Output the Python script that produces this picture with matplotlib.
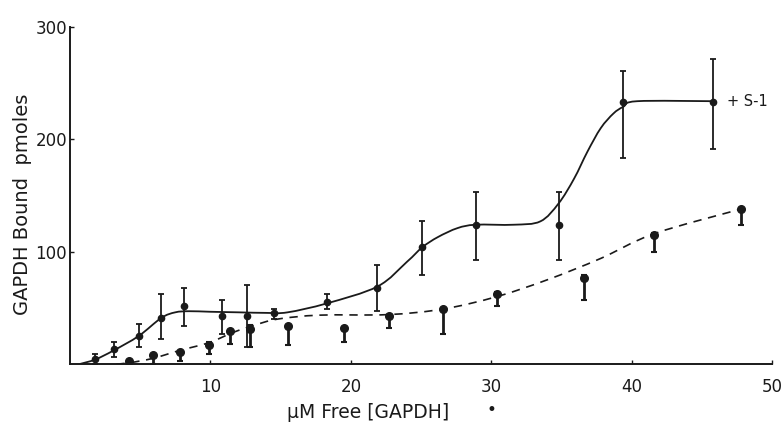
import numpy as np
import matplotlib
matplotlib.use("Agg")
from matplotlib import pyplot as plt
from matplotlib.path import Path
from matplotlib.patches import PathPatch

# +S-1 series (solid line)
s1_x = [1.8, 3.1, 4.9, 6.5, 8.1, 10.8, 12.6, 14.5, 18.3, 21.9, 25.1, 28.9, 34.8, 39.4, 45.8]
s1_y = [4.5, 13, 25, 41, 52, 43, 43, 45, 55, 68, 104, 124, 124, 233, 233]
s1_lo = [0, 6, 15, 22, 34, 27, 15, 40, 49, 47, 79, 93, 93, 183, 191]
s1_hi = [9, 20, 36, 62, 68, 57, 70, 49, 62, 88, 127, 153, 153, 261, 272]

# control series (dashed line)
c_x = [4.2, 5.9, 7.8, 9.9, 11.4, 12.8, 15.5, 19.5, 22.7, 26.6, 30.4, 36.6, 41.6, 47.8]
c_y = [3, 8, 11, 17, 29, 31, 34, 32, 43, 49, 62, 77, 115, 138]
c_lo = [0, 0, 3, 9, 18, 15, 17, 20, 32, 27, 52, 57, 100, 124]
c_hi = [3, 8, 12, 20, 30, 35, 35, 33, 44, 50, 64, 79, 117, 139]

# fitted curves as drawn in the figure
s1_curve_x = [0.7, 1.8, 3.1, 4.9, 6.5, 7.5, 8.5, 10, 12, 14, 15.5, 18.3, 21.9, 24.0, 25.1,
              26.2, 27.6, 28.9, 31.6, 33.5, 34.8, 35.9, 36.85, 37.8, 38.7, 39.4, 40.4, 45.8]
s1_curve_y = [0, 4, 12, 25, 41, 46, 47, 46.5, 46, 45.5, 46, 54, 69, 91, 104,
              113, 121, 124, 124, 127, 143, 165, 189, 210, 223, 229, 234, 234]
c_curve_x = [3.3, 4.2, 5.9, 7.8, 9.9, 11.6, 13.0, 14.8, 17.8, 22.7, 26.6, 30.4, 34.0, 37.8, 41.6, 47.8]
c_curve_y = [0, 1, 5, 12, 19, 28, 34, 40, 43.5, 44, 49, 60, 75, 94, 116, 138]


def smooth_path(xs, ys):
    # catmull-rom knots turned into cubic bezier segments
    p = np.column_stack([xs, ys]).astype(float)
    verts = [p[0]]
    codes = [Path.MOVETO]
    n = len(p)
    for i in range(n - 1):
        p0 = p[max(i - 1, 0)]
        p1 = p[i]
        p2 = p[i + 1]
        p3 = p[min(i + 2, n - 1)]
        verts += [p1 + (p2 - p0) / 6, p2 - (p3 - p1) / 6, p2]
        codes += [Path.CURVE4] * 3
    return Path(verts, codes)


plt.rcParams['font.family'] = ['DejaVu Sans']
ink = '#1a1a1a'
fig = plt.figure(figsize=(7.83, 4.23), dpi=100)
ax = fig.add_axes([0.0894, 0.1395, 0.8966, 0.7965])

ax.add_patch(PathPatch(smooth_path(s1_curve_x, s1_curve_y), fill=False,
                       edgecolor=ink, lw=1.3))
ax.add_patch(PathPatch(smooth_path(c_curve_x, c_curve_y), fill=False,
                       edgecolor=ink, lw=1.2, linestyle=(0, (5, 4))))

s1_err = [np.array(s1_y) - np.array(s1_lo), np.array(s1_hi) - np.array(s1_y)]
ax.errorbar(s1_x, s1_y, yerr=s1_err, fmt='o', color=ink, ms=4.5,
            mfc=ink, elinewidth=1.3, capsize=2, capthick=1.3)
c_err = [np.array(c_y) - np.array(c_lo), np.array(c_hi) - np.array(c_y)]
ax.errorbar(c_x, c_y, yerr=c_err, fmt='o', color=ink, ms=5.5,
            mfc=ink, elinewidth=2.0, capsize=2.5, capthick=1.5)

ax.set_xlim(0, 50)
ax.set_ylim(0, 300)
ax.set_xticks([10, 20, 30, 40, 50])
ax.set_yticks([100, 200, 300])
ax.tick_params(direction='in', length=3, width=1, labelsize=12,
               colors=ink, pad=10)
ax.tick_params(axis='y', pad=2)
for s in ['top', 'right']:
    ax.spines[s].set_visible(False)
for s in ['left', 'bottom']:
    ax.spines[s].set_linewidth(1.4)
    ax.spines[s].set_color(ink)

ax.set_xlabel('μM Free [GAPDH]', fontsize=13.5, color=ink)
ax.xaxis.set_label_coords(0.424, -0.145)
ax.xaxis.label.set_va('center')
ax.set_ylabel('GAPDH Bound  pmoles', fontsize=14, color=ink)
ax.yaxis.set_label_coords(-0.068, 0.475)
ax.yaxis.label.set_va('center')
ax.text(46.8, 234, '+ S-1', fontsize=10.5, color=ink, va='center', ha='left')
ax.text(0.60, -0.137, '•', transform=ax.transAxes, fontsize=12, color=ink,
        ha='center', va='center')

plt.savefig('out.png', dpi=100)
